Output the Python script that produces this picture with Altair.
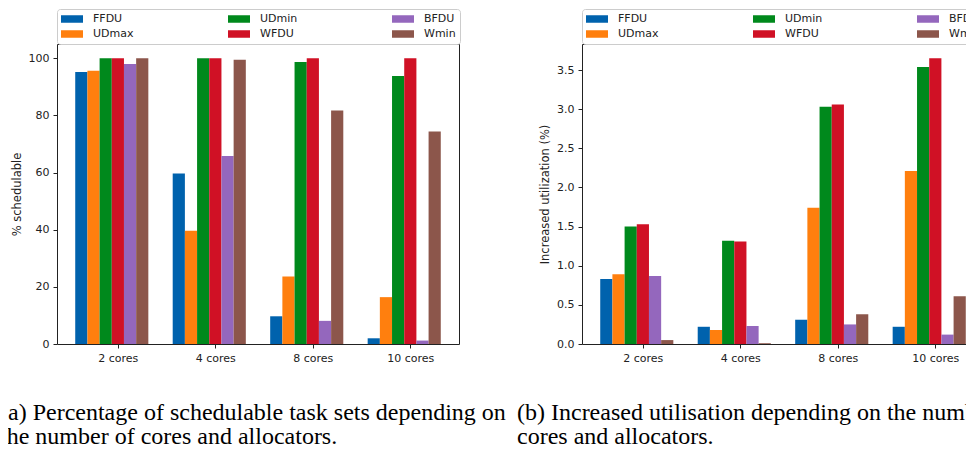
import altair as alt
import pandas as pd

# ---------------- data ----------------
cores = ["2 cores", "4 cores", "8 cores", "10 cores"]
allocators = ["FFDU", "UDmax", "UDmin", "WFDU", "BFDU", "Wmin"]
colors = ["#0062ad", "#ff7f0e", "#00891c", "#d01125", "#9467bd", "#8c564b"]

# (a) % schedulable
sched_ffdu = [95.2, 59.7, 9.7, 2.0]
sched_udmax = [95.6, 39.6, 23.6, 16.4]
sched_udmin = [100.0, 100.0, 98.7, 93.8]
sched_wfdu = [100.0, 100.0, 100.0, 100.0]
sched_bfdu = [98.0, 65.8, 8.1, 1.2]
sched_wmin = [100.0, 99.5, 81.7, 74.4]

# (b) increased utilization (%)
util_ffdu = [0.83, 0.22, 0.31, 0.22]
util_udmax = [0.89, 0.18, 1.74, 2.21]
util_udmin = [1.50, 1.32, 3.03, 3.54]
util_wfdu = [1.53, 1.31, 3.06, 3.65]
util_bfdu = [0.87, 0.23, 0.25, 0.12]
util_wmin = [0.05, 0.01, 0.38, 0.61]

sched_ticks = [0, 20, 40, 60, 80, 100]
util_ticks = [0.0, 0.5, 1.0, 1.5, 2.0, 2.5, 3.0, 3.5]

caption_a = ["(a) Percentage of schedulable task sets depending on",
             "the number of cores and allocators."]
caption_b = ["(b) Increased utilisation depending on the number of",
             "cores and allocators."]


def frame(series):
    rows = []
    for a, vals in zip(allocators, series):
        for c, v in zip(cores, vals):
            rows.append({"cores": c, "alloc": a, "value": v})
    return pd.DataFrame(rows)


df_a = frame([sched_ffdu, sched_udmax, sched_udmin, sched_wfdu, sched_bfdu, sched_wmin])
df_b = frame([util_ffdu, util_udmax, util_udmin, util_wfdu, util_bfdu, util_wmin])

INK = "#222222"
SANS = "DejaVu Sans"


def panel(df, ytitle, ydomain, yvalues, yformat, caption, cap_dx):
    legend = alt.Legend(
        title=None, orient="none", legendX=0, legendY=-35, columns=3,
        gridAlign="each", columnPadding=94, rowPadding=3, padding=4,
        clipHeight=12, symbolType="M-1,-0.35H1V0.35H-1Z", symbolSize=484,
        symbolStrokeWidth=0, symbolOffset=0, labelOffset=10,
        labelFont=SANS, labelFontSize=11, labelColor=INK,
        strokeColor="#cccccc", fillColor="white", cornerRadius=3,
    )
    title = alt.TitleParams(text=caption, orient="bottom", anchor="start", frame="group",
                            dx=cap_dx, offset=38, font="Liberation Serif", fontSize=24,
                            fontWeight="normal", color="black", lineHeight=24)
    return alt.Chart(df, width=402, height=300, title=title).mark_bar().encode(
        x=alt.X("cores:N", sort=cores,
                scale=alt.Scale(paddingInner=0.25, paddingOuter=0.187),
                axis=alt.Axis(title=None, tickOffset=6, labelAngle=0, labelAlign="center",
                              labelBaseline="top", domain=False,
                              tickColor=INK, tickSize=4, labelPadding=4,
                              labelFont=SANS, labelFontSize=11, labelColor=INK)),
        xOffset=alt.XOffset("alloc:N", sort=allocators,
                            scale=alt.Scale(paddingInner=0, paddingOuter=0)),
        y=alt.Y("value:Q", scale=alt.Scale(domain=ydomain, nice=False, zero=True),
                axis=alt.Axis(title=ytitle, values=yvalues, format=yformat, grid=False,
                              domain=False, tickColor=INK, tickSize=4, labelPadding=4,
                              labelFont=SANS, labelFontSize=11, labelColor=INK,
                              titleFont=SANS, titleFontSize=11.5, titleFontWeight="normal",
                              titleColor=INK, titlePadding=6)),
        color=alt.Color("alloc:N", scale=alt.Scale(domain=allocators, range=colors),
                        legend=legend),
    )


left = panel(df_a, "% schedulable", [0, 105], sched_ticks, "d", caption_a, -57)
right = panel(df_b, "Increased utilization (%)", [0, 3.8325], util_ticks, ".1f",
              caption_b, -65)

# fixed-size canvas (fits the page width): the figure is cropped at both sides
PAD_L, PAD_T = 49, 36
CANVAS_W, CANVAS_H = 958, 440

chart = (
    alt.hconcat(left, right, spacing=123, bounds="flush")
    .resolve_legend(color="independent")
    .configure_view(stroke=INK, strokeWidth=1)
    .properties(autosize=alt.AutoSizeParams(type="none"),
                padding={"left": PAD_L, "top": PAD_T,
                         "right": CANVAS_W - PAD_L, "bottom": CANVAS_H - PAD_T},
                background="white")
)

chart.save("out.html", embed_options={"renderer": "svg", "actions": False})
